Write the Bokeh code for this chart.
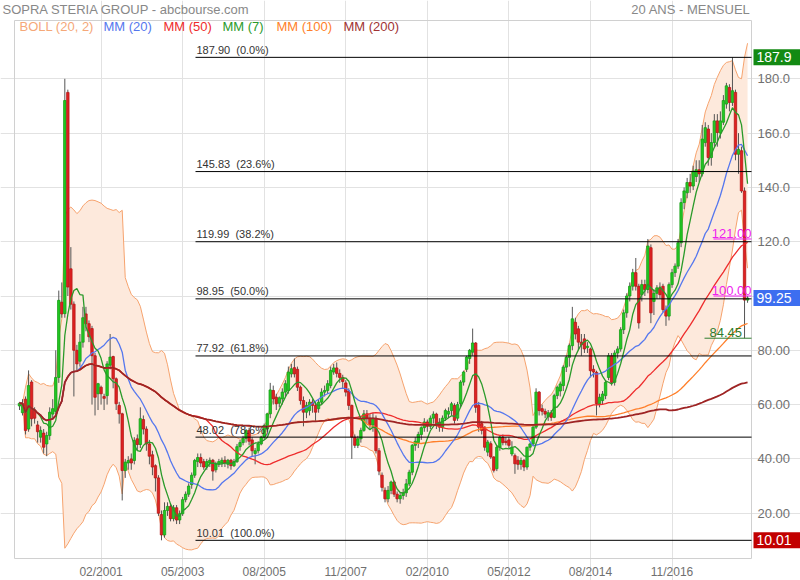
import numpy as np
import pandas as pd
from bokeh.plotting import figure
from bokeh.models import Label, FixedTicker
from bokeh.core.properties import value
from bokeh.embed import file_html
from bokeh.resources import INLINE

# ---- monthly candles (one per month, oldest first) ----
opens = [
    59.5, 57, 62, 51, 68.3, 58, 52.5, 48, 49.5, 45.5,
    48.6, 56.5, 57.5, 70, 97.7, 93.5, 175, 110, 97, 80,
    76, 83, 93.4, 89.8, 88, 78, 64, 66.4, 63, 63.3,
    74.5, 77.7, 69.5, 59.7, 56.6, 35.7, 38.5, 40, 39.4, 47.4,
    45.3, 54.5, 51, 45.5, 41.5, 37.5, 33, 19.5, 12, 21,
    22.5, 18, 22, 17.5, 19.8, 25, 27, 30.5, 34, 39,
    40.5, 39, 37, 38.5, 39.5, 36, 38, 38.5, 39.5, 38,
    39.5, 37.5, 39, 44.5, 46, 47.5, 50.5, 47, 42, 43,
    45.5, 48, 51, 56.6, 65.2, 62.7, 60.5, 62.1, 64.6, 65.2,
    71.3, 73.6, 73, 66.4, 61.5, 57.2, 57.8, 60.9, 59.7, 58.5,
    60.9, 64.6, 65.2, 67, 72, 73.5, 71.5, 70, 68, 65,
    59.7, 48, 45, 47.4, 50.5, 56.6, 55, 52.5, 55, 43,
    34, 28.4, 25.3, 28.4, 31.5, 27, 25.3, 26.5, 27.5, 30.8,
    35.1, 45, 46, 49, 51.5, 53.6, 52, 55, 56.5, 53.5,
    51.7, 55, 56.5, 57.8, 59.7, 55, 60.3, 68.3, 73, 77,
    79.3, 82.7, 59.7, 53, 51.7, 42.5, 45.6, 40.7, 36.4, 44.3,
    48, 46.5, 47, 41.8, 41.2, 39.5, 38, 39.4, 37, 44.3,
    45.5, 51.7, 64.6, 58.5, 57.5, 55.5, 57, 55.3, 63.3, 65,
    67, 73.8, 77.4, 81.7, 90.3, 87.9, 83, 84.2, 81, 80.5,
    73, 71.9, 60.3, 61.5, 63.3, 70, 78, 68.2, 79, 80.5,
    87.6, 93.8, 100, 103.6, 108.6, 103.6, 100.5, 104.2, 102.4, 117.8,
    98, 101, 103, 103.6, 95, 92.6, 104.2, 108.6, 111, 119.6,
    134.4, 138, 141.8, 140.5, 144, 146.5, 145, 156.5, 161.5, 151,
    156.5, 164.5, 160, 164, 170.7, 176.8, 171.3, 175, 152.2, 153.5,
    138.7, 98.5,
]
highs = [
    61, 62, 63, 72.6, 69, 59, 54, 52, 51, 50,
    59, 62, 80, 102, 105, 180, 176, 118, 98, 82,
    86, 96, 96, 91, 89, 79, 68, 67, 64, 76,
    86, 78, 70, 61, 57, 40, 41, 42, 48, 49,
    59, 56, 52, 47, 43, 38, 34, 21, 24, 24,
    23.5, 23, 23, 21, 26, 28, 31, 35, 40, 42,
    42, 40, 40, 40.5, 40, 39, 40, 40.5, 41, 40,
    40, 40, 45.5, 47, 48.5, 51, 51.5, 48, 44, 46.5,
    48.5, 53, 57, 68, 67, 64, 63, 66, 69, 74,
    75, 77, 74, 67, 63, 61, 62, 62, 61, 62,
    66, 67, 69, 74, 75, 75.5, 73, 71, 69, 66,
    60, 49, 48.5, 51.5, 58, 58, 56.5, 57, 56, 44,
    35, 29.5, 30, 32, 32, 28, 27.5, 29, 32.6, 36,
    45.5, 48, 50, 52, 55, 54.5, 56, 57.5, 57, 55,
    56, 58.5, 59, 61, 60.5, 61, 69, 72.5, 78, 80.5,
    88, 83, 61, 54, 52, 47, 46.5, 41, 45, 48.5,
    49, 48, 48, 46.5, 42, 41, 40.5, 40, 44.5, 46,
    52.5, 66, 65, 60, 58.5, 58, 58, 64, 67, 68.5,
    74.5, 78, 82.5, 96, 92, 89, 86, 86, 83, 81,
    74.5, 72.5, 64, 65, 69, 79, 79, 80, 81.5, 88.5,
    95, 101, 105, 110, 114, 104.5, 106, 106, 121, 119,
    102.5, 104, 105, 104.5, 96.5, 105, 110, 112, 121, 136,
    140, 143.5, 145, 148, 150, 150, 163, 164, 163, 160,
    167, 167, 168, 174, 178.5, 178, 187.9, 176, 160, 155,
    140, 100,
]
lows = [
    58, 56, 49, 50, 52, 53, 46, 46, 42, 41,
    47, 55, 56, 68, 92, 92, 100, 95, 63, 72,
    74, 81, 87, 83, 60, 56, 58, 60, 58, 60,
    73, 66, 58, 53, 24.7, 33, 36, 36, 38, 43,
    44, 49, 43, 38, 34, 28, 19, 10.01, 11, 19,
    17, 17, 16, 16, 19, 24, 26, 29, 33, 37,
    37, 36, 36, 37, 32, 35, 37, 37, 37, 36.5,
    36, 37, 38.5, 43, 45, 46, 45, 41, 38, 42,
    45, 47, 50, 55, 60, 58, 59, 60, 63, 64,
    70, 70, 65, 60, 52, 55, 56, 57, 54, 57,
    60, 63, 64, 66, 71, 70, 68, 66, 63, 58,
    40, 44, 44, 46, 50, 53, 51, 50, 42, 34,
    28, 24, 24, 27, 26, 24, 23.5, 25, 26, 30,
    34, 43, 44, 47, 50, 50, 51, 53, 51, 50,
    50, 54, 55, 56, 53, 54, 59, 67, 72, 75,
    78, 57, 50, 49, 43, 41, 40, 35, 35.5, 43,
    45, 45, 44, 41, 34.5, 36, 36, 35.5, 36, 43,
    45, 51, 56, 56, 55, 54, 54, 55, 62, 63,
    65, 72, 74, 80, 84, 80, 78, 79, 79, 70,
    70, 56, 59, 60, 62, 69, 67, 67, 77, 79.5,
    86, 92, 98, 102, 102, 88, 98, 100, 101, 90,
    93, 99, 99, 94, 89, 91, 103, 107, 110, 118,
    132, 136, 138, 139, 142, 142, 144, 155, 148, 148,
    155, 155, 158, 163, 169, 168, 170, 150, 145, 138,
    84.45, 97.5,
]
closes = [
    60.5, 60.3, 50.5, 67, 54.8, 55, 50, 50.5, 44.3, 48.6,
    57.2, 58.5, 70, 98.4, 93.4, 172, 103.3, 97, 80, 75,
    83, 92, 89.8, 85, 78, 62.7, 67.7, 64, 62.3, 75,
    77.5, 69.5, 60.3, 56.6, 35.7, 38.8, 39.4, 38.5, 46.8, 45.3,
    54.8, 51, 45.5, 41, 37, 33, 20, 12, 21, 22.5,
    18, 22, 17.5, 19.8, 25, 27, 30, 34, 39.4, 40.5,
    38.5, 37, 39, 39.5, 35.5, 38, 39, 39.5, 38.5, 39.5,
    37.5, 39, 44.5, 46, 47.5, 50.5, 46.5, 43, 43, 45.6,
    48, 52.3, 56.6, 65.4, 62.1, 60.3, 62.5, 64.6, 67.7, 72,
    73.2, 71.3, 66.4, 61.5, 57.2, 59.7, 60.9, 59.7, 57.2, 60.9,
    64.6, 65.2, 67.7, 72.6, 73.5, 71.5, 70, 68.5, 64.6, 59.7,
    48, 45, 47.4, 50.5, 56.6, 55, 52.5, 55, 43, 35.5,
    29.5, 25.3, 28.4, 31.5, 27, 25.3, 26.5, 27.5, 30.8, 35.1,
    45, 46.5, 49, 51.5, 53.6, 52, 55, 56.5, 52.5, 51.7,
    55, 57.8, 57.5, 60.3, 54.2, 60, 68.3, 72, 77.5, 80,
    82.7, 59, 51.7, 50.5, 44.3, 46.2, 40.7, 35.8, 44.3, 48,
    46, 46, 45, 44.3, 38.2, 38, 39.4, 37, 44.3, 45.5,
    51.7, 64.6, 57.8, 57.5, 56.5, 57, 55.3, 63.3, 66.4, 67.6,
    73.8, 77.4, 81.7, 91.6, 86, 83, 82, 80.5, 81.5, 72.5,
    72, 60.3, 62.7, 63.9, 68.2, 78, 68.2, 79, 80.5, 87.6,
    93.8, 100, 103.6, 108.6, 103.6, 90.1, 104.2, 102.4, 118.4, 93.8,
    101, 103, 100.5, 95, 92.6, 104.2, 108.6, 111, 119.6, 134.4,
    138.7, 141.8, 140.5, 146, 146.5, 145, 157.8, 162, 151, 156.5,
    164.5, 160.2, 164.5, 172, 177.4, 171.3, 175.6, 152.2, 154, 138.7,
    98.5, 99.25,
]

x_tick_index = [27, 54, 81, 108, 135, 162, 189, 216]
x_tick_labels = ["02/2001", "05/2003", "08/2005", "11/2007",
                 "02/2010", "05/2012", "08/2014", "11/2016"]
y_ticks = [20, 40, 60, 80, 100, 120, 140, 160, 180]
y_tick_labels = ["20.00", "40.00", "60.00", "80.00", "100.0",
                 "120.0", "140.0", "160.0", "180.0"]

fib_values = [187.90, 145.83, 119.99, 98.95, 77.92, 48.02, 10.01]
fib_pcts = ["0.0%", "23.6%", "38.2%", "50.0%", "61.8%", "78.6%", "100.0%"]

marker_values = [121.00, 100.00]
support_value = 84.45
box_values = [187.9, 99.25, 10.01]
box_texts = ["187.9", "99.25", "10.01"]
box_colors = ["#138a13", "#3d6ef0", "#c20000"]

legend_names = ["BOLL (20, 2)", "MM (20)", "MM (50)", "MM (7)", "MM (100)", "MM (200)"]
legend_colors = ["#f5a878", "#5577ee", "#ee2c2c", "#2a9a2a", "#ff7f2a", "#a03333"]

# ---- indicators computed from the closes ----
s = pd.Series(closes, dtype=float)
idx = np.arange(len(closes))
mm7 = s.rolling(7, min_periods=1).mean()
mm20 = s.rolling(20, min_periods=1).mean()
mm50 = s.rolling(50, min_periods=1).mean()
mm100 = s.rolling(100, min_periods=1).mean()
mm200 = s.rolling(200, min_periods=1).mean()
sd20 = s.rolling(20, min_periods=1).std(ddof=0)
boll_up = mm20 + 2 * sd20
boll_dn = mm20 - 2 * sd20

# ---- geometry: the whole canvas is the plotting frame ----
W, H = 800, 580
PX_PER_MONTH = 3.021
PX_PER_UNIT = 2.715


def X(px):  # canvas pixel -> month index
    return (px - 19.0) / PX_PER_MONTH


def Y(py):  # canvas pixel (from top) -> price
    return 180.0 - (py - 78.3) / PX_PER_UNIT


CX0, CX1 = X(14), X(751)      # chart area (inner box)
CY0, CY1 = Y(558), Y(20)
FONT = "Liberation Sans"

p = figure(width=W, height=H, x_range=(X(0), X(W)), y_range=(Y(H), Y(0)),
           x_axis_location="below", y_axis_location="right",
           toolbar_location=None, output_backend="svg",
           min_border_left=0, min_border_right=0, min_border_top=0,
           min_border_bottom=0)
p.background_fill_color = "white"
p.border_fill_color = "white"
p.outline_line_color = None

# axes drawn at the chart box edges
p.xaxis.fixed_location = CY0
p.yaxis.fixed_location = CX1
p.xaxis.ticker = FixedTicker(ticks=x_tick_index)
p.xaxis.major_label_overrides = {t: l for t, l in zip(x_tick_index, x_tick_labels)}
p.yaxis.ticker = FixedTicker(ticks=y_ticks)
p.yaxis.major_label_overrides = {t: l for t, l in zip(y_ticks, y_tick_labels)}
for ax in (p.xaxis, p.yaxis):
    ax.axis_line_color = None
    ax.major_tick_line_color = None
    ax.minor_tick_line_color = None
    ax.major_tick_out = 0
    ax.major_tick_in = 0
    ax.minor_tick_out = 0
    ax.minor_tick_in = 0
    ax.major_label_text_font = FONT
    ax.major_label_text_color = "#707070"
p.xaxis.major_label_text_font_size = "12px"
p.xaxis.major_label_standoff = 6
p.yaxis.major_label_text_font_size = "13px"
p.yaxis.major_label_standoff = 6

p.xgrid.ticker = FixedTicker(ticks=x_tick_index)
p.ygrid.ticker = FixedTicker(ticks=y_ticks)
p.xgrid.bounds = (CY0, CY1)
p.ygrid.bounds = (CX0, CX1)
p.xgrid.grid_line_color = "#e2e2e2"
p.ygrid.grid_line_color = "#e2e2e2"

# chart box border
p.quad(left=[CX0], right=[CX1], bottom=[CY0], top=[CY1],
       fill_color=None, line_color="#d0d0d0", line_width=1)

# Bollinger band
p.varea(x=idx, y1=boll_dn, y2=boll_up, fill_color="#fde9dc", fill_alpha=1.0)
p.line(idx, boll_up, line_color="#f6a36e", line_width=1)
p.line(idx, boll_dn, line_color="#f6a36e", line_width=1)

# candles
o = np.array(opens, dtype=float)
c = np.array(closes, dtype=float)
up = c >= o
fills = np.where(up, "#22c922", "#e02222")
edges = np.where(up, "#169e16", "#b51616")
p.segment(x0=idx, y0=highs, x1=idx, y1=lows, line_color="#555555", line_width=1)
p.vbar(x=idx, width=0.8, top=np.maximum(o, c), bottom=np.minimum(o, c),
       fill_color=fills, line_color=edges, line_width=0.8)

# moving averages
p.line(idx, mm100, line_color="#ff7f2a", line_width=1.3)
p.line(idx, mm50, line_color="#ee2c2c", line_width=1.3)
p.line(idx, mm20, line_color="#5577ee", line_width=1.3)
p.line(idx, mm7, line_color="#2a9a2a", line_width=1.3)
p.line(idx, mm200, line_color="#9e2424", line_width=1.8)

# Fibonacci retracement lines
FIB_X = X(195)
n_fib = len(fib_values)
p.segment(x0=[FIB_X] * n_fib, y0=fib_values, x1=[CX1] * n_fib, y1=fib_values,
          line_color="black", line_width=1)
p.text(x=[X(196)] * n_fib, y=[v + 1.5 / PX_PER_UNIT for v in fib_values],
       text=["%.2f\u00a0 (%s)" % (v, q) for v, q in zip(fib_values, fib_pcts)],
       text_font=value(FONT), text_font_size="11px", text_color="#333333",
       text_baseline="bottom", text_align="left")

# price markers
n_mk = len(marker_values)
p.segment(x0=[X(713)] * n_mk, y0=marker_values, x1=[CX1] * n_mk, y1=marker_values,
          line_color="#ee22ee", line_width=1)
p.text(x=[X(751)] * n_mk, y=[v + 1 / PX_PER_UNIT for v in marker_values],
       text=["%.2f" % v for v in marker_values], text_font=value(FONT),
       text_font_size="13px", text_color="#ee22ee",
       text_align="right", text_baseline="bottom")
p.segment(x0=[X(704)], y0=[support_value], x1=[CX1], y1=[support_value],
          line_color="#2e7d2e", line_width=1)
p.text(x=[X(709)], y=[support_value + 1 / PX_PER_UNIT], text=["%.2f" % support_value],
       text_font=value(FONT), text_font_size="13px", text_color="#2e7d2e",
       text_align="left", text_baseline="bottom")

# value boxes on the price scale
half = 8 / PX_PER_UNIT
n_box = len(box_values)
p.quad(left=[X(753)] * n_box, right=[X(800)] * n_box,
       bottom=[v - half for v in box_values], top=[v + half for v in box_values],
       fill_color=box_colors, line_color=None, level="overlay")
p.text(x=[X(756)] * n_box, y=box_values, text=box_texts, text_font=value(FONT),
       text_font_size="14px", text_color="white", text_align="left",
       text_baseline="middle", level="overlay")

# legend row at the top of the chart box
legend_px = [19, 103, 163, 222, 276, 343]
p.text(x=[X(v) for v in legend_px], y=[Y(26)] * len(legend_px), text=legend_names,
       text_font=value(FONT), text_font_size="13px", text_color=legend_colors,
       text_align="left", text_baseline="middle")

# titles
p.add_layout(Label(x=X(2), y=Y(8.5), text="SOPRA STERIA GROUP - abcbourse.com",
                   text_font=FONT, text_font_size="13px", text_color="#888888",
                   text_align="left", text_baseline="middle"))
p.add_layout(Label(x=X(750), y=Y(8.5), text="20 ANS - MENSUEL",
                   text_font=FONT, text_font_size="13px", text_color="#888888",
                   text_align="right", text_baseline="middle"))

open("out.html", "w").write(file_html(p, INLINE))
